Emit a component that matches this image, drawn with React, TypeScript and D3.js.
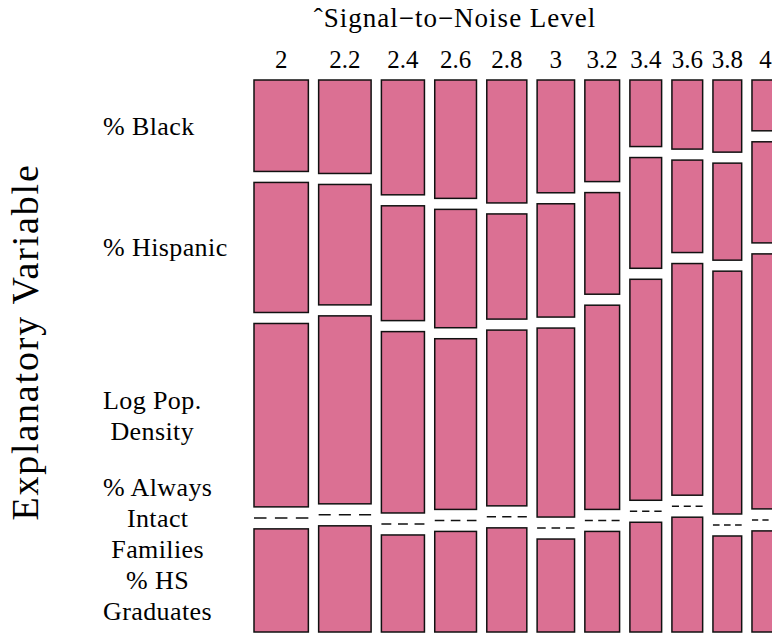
import React, { useEffect, useRef } from "react";
import * as d3 from "d3";

// Signal-to-noise levels (columns) and their relative widths
const snrLevels = ["2", "2.2", "2.4", "2.6", "2.8", "3", "3.2", "3.4", "3.6", "3.8", "4"];
const colWeights = [54.3, 52.4, 43.0, 41.7, 40.0, 37.4, 34.7, 31.7, 30.7, 28.7, 27.0];

// Explanatory variables (rows) and their labels
const variables = ["% Black", "% Hispanic", "Log Pop. Density", "% Always Intact Families", "% HS Graduates"];
const variableLabelLines = [
  ["% Black"],
  ["% Hispanic"],
  ["Log Pop.", "Density"],
  ["% Always", "Intact", "Families"],
  ["% HS", "Graduates"],
];

// Conditional shares (%) per column
const pctBlack = [18.0, 18.4, 22.6, 23.3, 24.2, 22.2, 20.0, 13.1, 13.6, 14.2, 10.0];
const pctHispanic = [25.6, 23.7, 22.6, 23.3, 20.7, 22.3, 20.0, 21.8, 18.2, 19.1, 19.9];
const pctLogPop = [36.1, 37.0, 35.7, 33.6, 34.6, 37.2, 40.2, 43.5, 45.6, 47.8, 50.2];
const pctIntact = [0, 0, 0, 0, 0, 0, 0, 0, 0, 0, 0];
const pctHS = [20.3, 20.9, 19.1, 19.8, 20.5, 18.3, 19.8, 21.6, 22.6, 18.9, 19.9];

const xTitle = "\u02C6Signal\u2212to\u2212Noise Level";
const yTitle = "Explanatory Variable";

const W = 772;
const H = 633;
const FONT = "'Liberation Serif', 'Liberation Sans', serif";

export default function App() {
  const ref = useRef<SVGSVGElement | null>(null);

  useEffect(() => {
    const svg = d3.select(ref.current);
    svg.selectAll("*").remove();

    const series = [pctBlack, pctHispanic, pctLogPop, pctIntact, pctHS];
    const left = 254;
    const top = 80;
    const bottom = 632;
    const plotW = 525;
    const gapX = 10.3;
    const gapY = 11;
    const n = snrLevels.length;
    const m = variables.length;

    const totalW = d3.sum(colWeights);
    const xScale = d3.scaleLinear().domain([0, totalW]).range([0, plotW - gapX * (n - 1)]);
    const yScale = d3.scaleLinear().domain([0, 100]).range([0, bottom - top - gapY * (m - 1)]);

    const cumW = d3.cumsum(colWeights);
    const cols = snrLevels.map((lab, i) => {
      const start = i === 0 ? 0 : cumW[i - 1];
      const x0 = left + xScale(start) + i * gapX;
      const w = xScale(colWeights[i]);
      let cum = 0;
      const segs = series.map((s, j) => {
        const v = s[i];
        const y0 = top + yScale(cum) + j * gapY;
        const h = yScale(v);
        cum += v;
        return { j, y0, h, v };
      });
      return { lab, x0, w, segs };
    });

    const g = svg.append("g");

    cols.forEach((c) => {
      const cg = g.append("g");
      c.segs.forEach((s) => {
        if (s.v > 0) {
          cg.append("rect")
            .attr("x", c.x0)
            .attr("y", s.y0)
            .attr("width", c.w)
            .attr("height", s.h)
            .attr("fill", "#DB7093")
            .attr("stroke", "#111")
            .attr("stroke-width", 1.5);
        } else {
          cg.append("line")
            .attr("x1", c.x0)
            .attr("x2", c.x0 + c.w)
            .attr("y1", s.y0)
            .attr("y2", s.y0)
            .attr("stroke", "#111")
            .attr("stroke-width", 1.5)
            .attr("stroke-dasharray", `${c.w * 0.23} ${c.w * 0.155}`);
        }
      });
      svg.append("text")
        .attr("x", c.x0 + c.w / 2)
        .attr("y", 68)
        .attr("text-anchor", "middle")
        .style("font-family", FONT)
        .style("font-size", "25px")
        .attr("fill", "#000")
        .text(c.lab);
    });

    svg.append("text")
      .attr("x", 455)
      .attr("y", 27)
      .attr("text-anchor", "middle")
      .style("font-family", FONT)
      .style("font-size", "27px")
      .style("letter-spacing", "1px")
      .attr("fill", "#000")
      .text(xTitle);

    svg.append("text")
      .attr("transform", "translate(38,342) rotate(-90)")
      .attr("text-anchor", "middle")
      .style("font-family", FONT)
      .style("font-size", "38px")
      .style("letter-spacing", "1.8px")
      .attr("fill", "#000")
      .text(yTitle);

    const lh = 31;
    let prevBottom = -Infinity;
    const first = cols[0];
    variableLabelLines.forEach((lines, j) => {
      const s = first.segs[j];
      const centre = s.y0 + s.h / 2;
      let blockTop = centre - (lines.length * lh) / 2;
      if (blockTop < prevBottom) blockTop = prevBottom;
      prevBottom = blockTop + lines.length * lh;
      const lg = svg.append("g");
      const texts = lines.map((ln, k) =>
        lg.append("text")
          .attr("x", 0)
          .attr("y", blockTop + lh * (k + 0.5))
          .attr("dy", "0.34em")
          .attr("text-anchor", "middle")
          .style("font-family", FONT)
          .style("font-size", "26px")
          .style("letter-spacing", "0.4px")
          .attr("fill", "#000")
          .text(ln)
      );
      const maxW = d3.max(texts, (t) => (t.node() as SVGTextElement).getComputedTextLength()) || 0;
      lg.attr("transform", `translate(${103 + maxW / 2},0)`);
    });
  }, []);

  return (
    <svg
      ref={ref}
      width={W}
      height={H}
      style={{ position: "absolute", left: 0, top: 0, background: "#fff", overflow: "hidden" }}
    />
  );
}
